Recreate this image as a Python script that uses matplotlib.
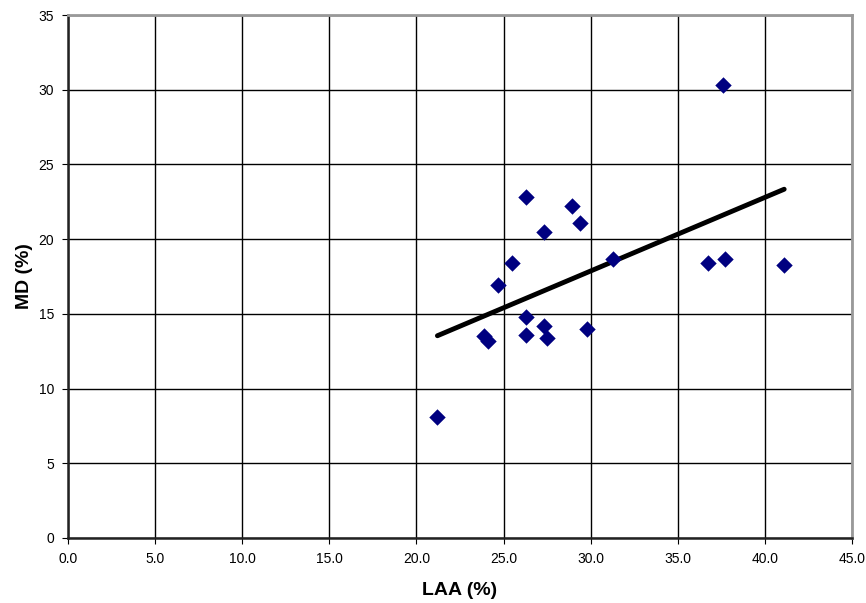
import numpy as np
import matplotlib.pyplot as plt
from matplotlib.ticker import FormatStrFormatter

plt.rcParams['font.family'] = ['Liberation Sans', 'DejaVu Sans']

# LAA (%) vs MD (%)
laa = [21.2, 23.9, 24.1, 24.7, 25.5, 26.3, 26.3, 26.3, 27.3, 27.3,
       27.5, 28.9, 29.4, 29.8, 31.3, 36.7, 37.6, 37.7, 41.1]
md = [8.1, 13.5, 13.2, 16.9, 18.4, 22.8, 14.8, 13.6, 20.5, 14.2,
      13.4, 22.2, 21.1, 14.0, 18.7, 18.4, 30.3, 18.7, 18.3]
xticks = np.arange(0, 45.1, 5)
yticks = np.arange(0, 35.1, 5)

x = np.array(laa)
y = np.array(md)

fig = plt.figure(figsize=(8.66, 6.03), dpi=100)
ax = fig.add_axes([0.0785, 0.108, 0.9055, 0.867])

ax.grid(True, color='black', linewidth=1.0)
ax.set_axisbelow(True)

# linear trend line over the data range
slope, icept = np.polyfit(x, y, 1)
xt = np.array([x.min(), x.max()])
ax.plot(xt, slope * xt + icept, color='black', linewidth=3.5, solid_capstyle='round', zorder=3)

ax.scatter(x, y, marker='D', s=70, color='#000080', zorder=4, linewidths=0)

ax.set_xlim(0, 45)
ax.set_ylim(0, 35)
ax.set_xticks(xticks)
ax.set_yticks(yticks)
ax.xaxis.set_major_formatter(FormatStrFormatter('%.1f'))
ax.tick_params(direction='out', length=4, labelsize=10, colors='black', pad=6)

for s in ['left', 'bottom']:
    ax.spines[s].set_color('#222222')
    ax.spines[s].set_linewidth(1.8)
for s in ['top', 'right']:
    ax.spines[s].set_color('#999999')
    ax.spines[s].set_linewidth(2)

ax.set_xlabel('LAA (%)', fontsize=14, fontweight='bold', labelpad=12)
ax.set_ylabel('MD (%)', fontsize=14, fontweight='bold', labelpad=4)

fig.savefig('out.png', dpi=100)
